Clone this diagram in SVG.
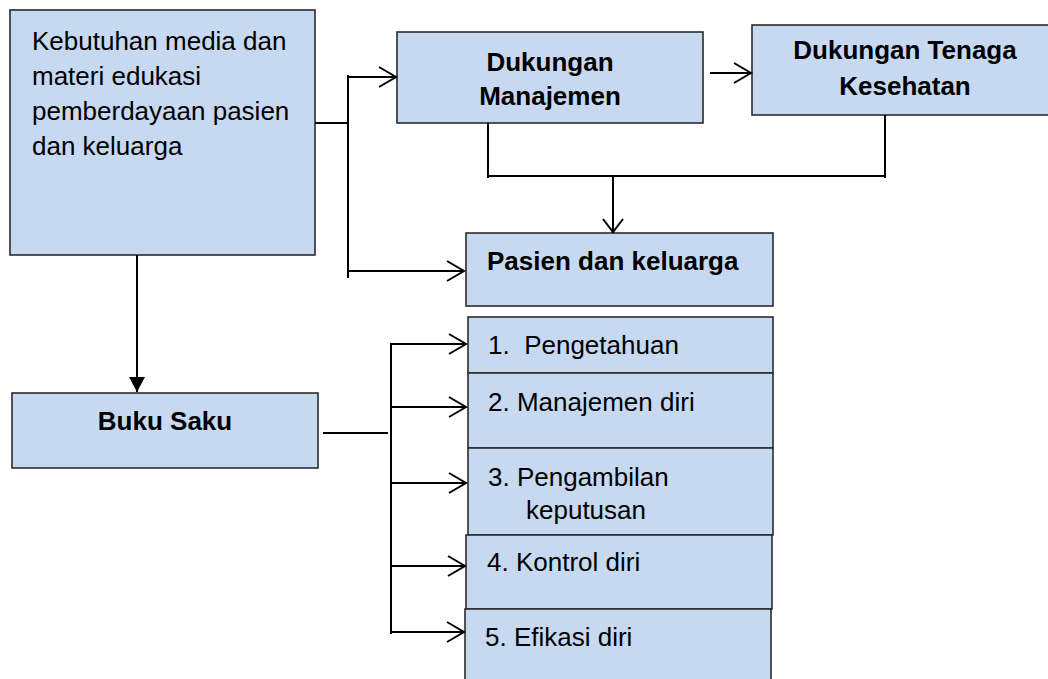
<svg xmlns="http://www.w3.org/2000/svg" width="1048" height="679" viewBox="0 0 1048 679">
<style>
.box{fill:#c6d9f1;stroke:#2b2b2b;stroke-width:1.6}
.t{font-family:"Liberation Sans",Arial,sans-serif;font-size:26px;fill:#000}
.b{font-weight:bold}
.c{fill:none;stroke:#000;stroke-width:2}
</style>
<defs>
<marker id="open" markerUnits="userSpaceOnUse" markerWidth="24" markerHeight="24" refX="18" refY="11" orient="auto" overflow="visible">
<path d="M1,1 L18,11 L1,21" fill="none" stroke="#000" stroke-width="2"/>
</marker>
<marker id="openS" markerUnits="userSpaceOnUse" markerWidth="24" markerHeight="24" refX="14" refY="11" orient="auto" overflow="visible">
<path d="M1,1 L14,11 L1,21" fill="none" stroke="#000" stroke-width="2"/>
</marker>
<marker id="solid" markerUnits="userSpaceOnUse" markerWidth="20" markerHeight="20" refX="15" refY="8" orient="auto" overflow="visible">
<path d="M0,0 L15,8 L0,16 Z" fill="#000"/>
</marker>
</defs>
<g id="n-kebutuhan">
<rect class="box" x="10" y="10" width="305" height="245"/>
<text class="t" x="32" y="50">Kebutuhan media dan</text>
<text class="t" x="32" y="85">materi edukasi</text>
<text class="t" x="32" y="120">pemberdayaan pasien</text>
<text class="t" x="32" y="155">dan keluarga</text>
</g>
<g id="n-dukungan-manajemen">
<rect class="box" x="397" y="32" width="306" height="91"/>
<text class="t b" x="550" y="71" text-anchor="middle">Dukungan</text>
<text class="t b" x="550" y="105" text-anchor="middle">Manajemen</text>
</g>
<g id="n-dukungan-tenaga">
<rect class="box" x="752" y="25" width="310" height="90"/>
<text class="t b" x="905" y="59" text-anchor="middle">Dukungan Tenaga</text>
<text class="t b" x="905" y="95" text-anchor="middle">Kesehatan</text>
</g>
<g id="n-pasien">
<rect class="box" x="466" y="233" width="307" height="73"/>
<text class="t b" x="487" y="270">Pasien dan keluarga</text>
</g>
<g id="n-buku-saku">
<rect class="box" x="12" y="393" width="306" height="75"/>
<text class="t b" x="165" y="430" text-anchor="middle">Buku Saku</text>
</g>
<g id="n-item1">
<rect class="box" x="468" y="317" width="305" height="56"/>
<text class="t" x="488" y="354" style="white-space:pre">1.  Pengetahuan</text>
</g>
<g id="n-item2">
<rect class="box" x="468" y="373" width="305" height="75"/>
<text class="t" x="488" y="411">2. Manajemen diri</text>
</g>
<g id="n-item3">
<rect class="box" x="468" y="448" width="305" height="87"/>
<text class="t" x="488" y="486">3. Pengambilan</text>
<text class="t" x="526" y="519">keputusan</text>
</g>
<g id="n-item4">
<rect class="box" x="466" y="535" width="306" height="74"/>
<text class="t" x="487" y="571">4. Kontrol diri</text>
</g>
<g id="n-item5">
<rect class="box" x="465" y="609" width="306" height="80"/>
<text class="t" x="485" y="646">5. Efikasi diri</text>
</g>
<g id="connectors">
<path class="c" d="M315,123 H348"/>
<path class="c" d="M348,75 V278"/>
<path class="c" d="M348,77 H396" marker-end="url(#open)"/>
<path class="c" d="M348,271 H464" marker-end="url(#open)"/>
<path class="c" d="M488,123 V178"/>
<path class="c" d="M488,176 H886"/>
<path class="c" d="M885,115 V178"/>
<path class="c" d="M613,176 V232" marker-end="url(#openS)"/>
<path class="c" d="M710,73 H751" marker-end="url(#open)"/>
<path class="c" d="M137,255 V392" marker-end="url(#solid)"/>
<path class="c" d="M323,433 H388"/>
<path class="c" d="M391,343 V634"/>
<path class="c" d="M391,344 H466" marker-end="url(#open)"/>
<path class="c" d="M391,407 H466" marker-end="url(#open)"/>
<path class="c" d="M391,483 H466" marker-end="url(#open)"/>
<path class="c" d="M391,566 H465" marker-end="url(#open)"/>
<path class="c" d="M391,632 H464" marker-end="url(#open)"/>
</g>
</svg>
